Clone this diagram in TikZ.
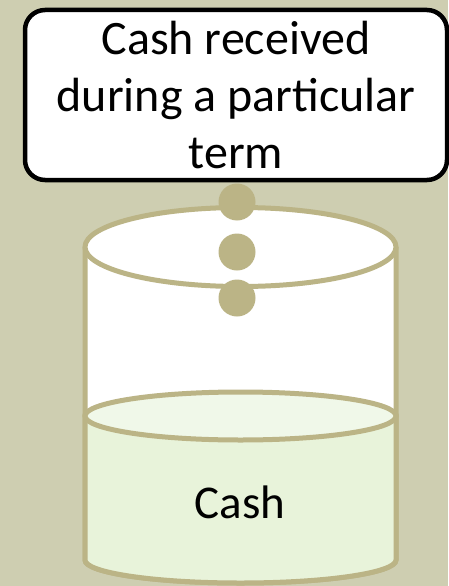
\documentclass[tikz,border=0pt]{standalone}
\usepackage{fontspec}
\setmainfont{Carlito}
\definecolor{bgolive}{RGB}{206,206,177}
\definecolor{tan}{RGB}{187,180,134}
\definecolor{liquid}{RGB}{232,243,218}
\definecolor{liquidtop}{RGB}{240,248,233}
\begin{document}
\begin{tikzpicture}[x=1pt,y=-1pt,
  label box/.style={draw=black, line width=4.5pt, fill=white, rounded corners=20pt,
    minimum width=422pt, minimum height=170pt, align=center, inner sep=0pt,
    font=\fontsize{48}{57}\selectfont},
  bead/.style={circle, fill=tan, minimum size=37pt, inner sep=0pt},
  rim/.style={draw=tan, line width=5pt},
  word/.style={font=\fontsize{47}{57}\selectfont}]
  % background
  \fill[bgolive] (0,0) rectangle (448,586);
  \useasboundingbox (0,0) rectangle (448,586);

  % cylinder body
  \draw[rim, fill=white] (85,247) -- (85,560)
    arc[start angle=180, end angle=360, x radius=155.5pt, y radius=23pt]
    -- (396,247);
  % liquid inside the cylinder
  \filldraw[rim, fill=liquid] (85,416) -- (85,560)
    arc[start angle=180, end angle=360, x radius=155.5pt, y radius=23pt]
    -- (396,416) -- cycle;
  \draw[rim, fill=liquidtop] (240.5,416) ellipse[x radius=155.5pt, y radius=24pt];
  % open top of the cylinder
  \draw[rim, fill=white] (240.5,247) ellipse[x radius=155.5pt, y radius=39.5pt];

  % label box
  \node[label box] (label) at (236,95) {Cash received\\during a particular\\term};

  % falling beads
  \node[bead] (b1) at (237,202) {};
  \node[bead] (b2) at (237,252) {};
  \node[bead] (b3) at (237,298) {};

  % content label
  \node[word] (cash) at (240,502) {Cash};
\end{tikzpicture}
\end{document}
